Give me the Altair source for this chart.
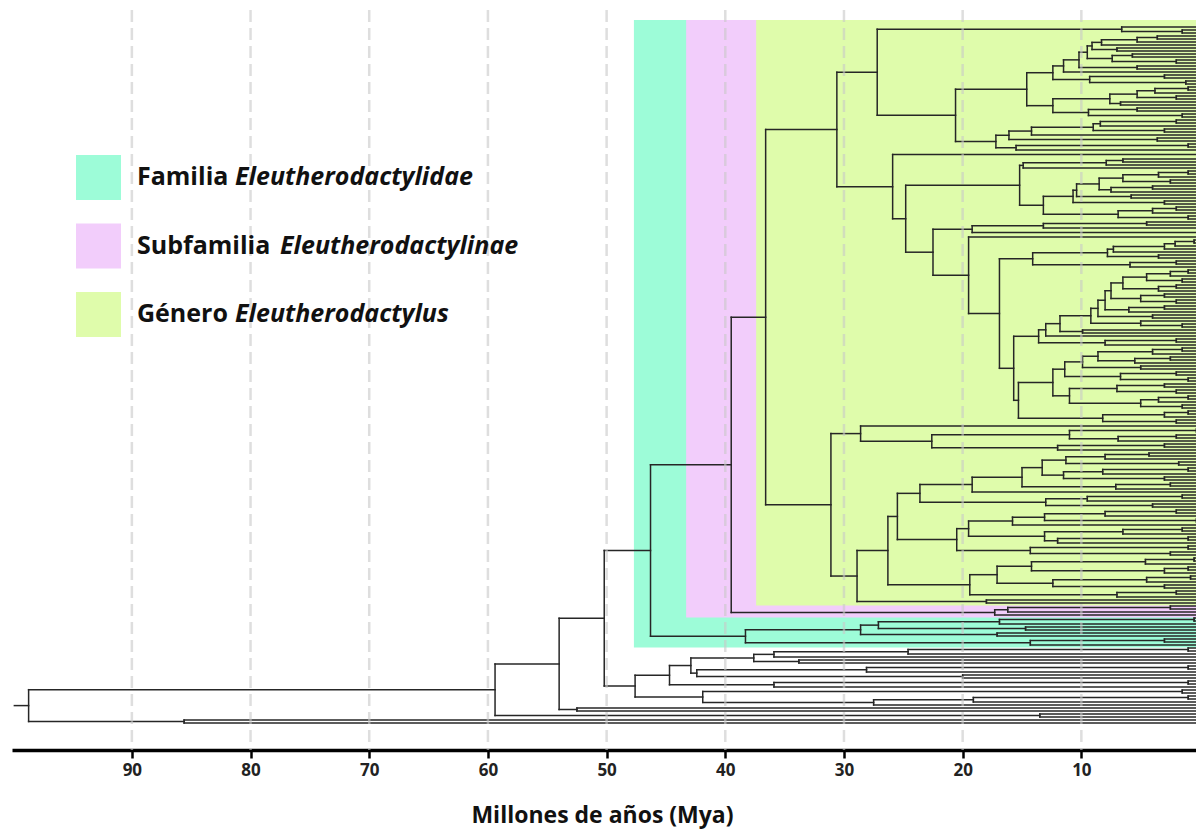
import altair as alt
import pandas as pd

# ---------------- data ----------------
# Tree written as nested clades: "(child,child)age"; "t" = terminal taxon; ages in Mya.
TREE = {
    "root": "(N59_4,N85_6)98.7",
    "N85_6": "(t,t)85.6",
    "N59_4": "(N54_0,(t,t)13.5)59.4",
    "N54_0": "(N50_2,(t,t)52.5)54.0",
    "N50_2": "(FAM,N47_6)50.2",
    "N47_6": "(N44_7,N41_9)47.6",
    "N41_9": "((t,t)1.5,(((t,t)1.0,t)19.1,t)27.5)41.9",
    "N44_7": "(N42_9,((t,t)1.0,t)35.9)44.7",
    "N42_9": "(N37_6,N42_4)42.9",
    "N42_4": "(((t,t)1.0,t)28.1,(t,t)20.0)42.4",
    "N37_6": "((((t,t)1.0,t)24.6,t)35.9,(t,t)33.8)37.6",
    "FAM": "(SUBFAM,N38_3)46.3",
    "N38_3": "(((((t,t)0.5,t)16.9,(t,t)14.7)27.1,(t,t)17.1)28.6,((t,t)3.0,t)14.3)38.3",
    "SUBFAM": "(GEN,N17_3)39.5",
    "N17_3": "(((t,t)2.5,t)16.2,t)17.3",
    "GEN": "(N30_6,N31_1)36.6",
    "N30_6": "(N27_2,N25_9)30.6",
    "N27_2": "((t,(t,t)1.5)6.6,N20_6)27.2",
    "N20_6": "(N14_6,N17_2)20.6",
    "N14_6": "(N12_4a,N12_4b)14.6",
    "N12_4a": "(N11_5,((t,t)3.0,(t,t)1.2)9.3)12.4",
    "N11_5": "(N10_2,t)11.5",
    "N10_2": "(N9_5,(t,t)5.3)10.2",
    "N9_5": "(N9_1,((t,t)5.7,(t,t)2.0)7.4)9.5",
    "N9_1": "((((t,t)3.6,t)5.3,t)8.3,(t,t)7.0)9.1",
    "N12_4b": "(((((t,t)1.0,t)3.8,(t,t)2.0)5.3,(t,t)6.7)7.6,((t,t)5.3,(t,t)1.5)9.4)12.4",
    "N17_2": "(N16_1,((t,t)1.0,t)15.5)17.2",
    "N16_1": "((N9_0,t)14.2,(t,t)3.6)16.1",
    "N9_0": "(((t,t)2.0,t)8.4,(t,t)3.0)9.0",
    "N25_9": "((t,t)0.2,N24_8)25.9",
    "N24_8": "(N15_2,N22_5)24.8",
    "N15_2": "((((t,t)6.5,t)7.9,t)14.9,N13_2)15.2",
    "N13_2": "(N10_7,(((t,t)2.0,t)4.0,(t,t)1.0)6.9)13.2",
    "N10_7": "(N10_4,(t,t)3.0)10.7",
    "N10_4": "((N6_5,((t,t)4.0,t)7.5)8.5,(t,t)5.8)10.4",
    "N6_5": "(((t,t)1.0,t)3.5,(t,t)2.5)6.5",
    "N22_5": "((((t,t)4.5,t)13.2,(t,t)0.2)19.2,(t,N16_9)19.5)22.5",
    "N16_9": "(N14_1,N15_7)16.9",
    "N14_1": "((N7_3,(t,t)3.5)7.8,((t,t)2.0,t)5.9)14.1",
    "N7_3": "((((t,t)0.5,t)2.1,t)3.0,t)7.3",
    "N15_7": "(N13_6,N15_3)15.7",
    "N13_6": "(((N9_2,(t,t)9.9)11.8,t)13.0,((t,t)2.0,t)8.0)13.6",
    "N9_2": "(((N7_5,((t,t)3.0,t)6.0)8.0,(t,t)4.0)8.6,(t,(t,t)1.5)5.0)9.2",
    "N7_5": "(((((t,t)1.0,t)2.5,(t,t)1.5)4.5,((t,t)2.0,t)3.5)6.5,((t,t)3.0,(t,t)2.0)5.0)7.5",
    "N15_3": "((N11_4,N11_0)12.4,(((t,t)1.0,t)3.0,(t,t)2.0)8.2)15.3",
    "N11_4": "(((((t,t)1.5,t)4.0,((t,t)2.5,t)5.5)8.6,(t,t)5.0)9.9,((t,t)2.0,(t,t)1.0)6.7)11.4",
    "N11_0": "(((t,t)3.0,(t,t)2.0)7.0,(((t,t)1.0,t)3.5,(t,t)1.5)5.0)11.0",
    "N31_1": "(N28_6,N28_9)31.1",
    "N28_6": "(t,(((t,t)0.3,((t,t)2.0,t)6.9)11.0,((t,t)3.0,t)12.0)22.6)28.6",
    "N28_9": "((N25_5,N19_4)26.3,(t,t)18.0)28.9",
    "N19_4": "((N14_2,N12_4d)17.1,((t,t)2.0,t)7.0)19.4",
    "N14_2": "(((t,t)0.5,t)4.6,((t,t)1.0,t)3.0)14.2",
    "N12_4d": "(((t,t)0.8,t)4.5,(t,t)3.0)12.4",
    "N25_5": "(N23_6,N20_5)25.5",
    "N23_6": "((((N11_3,N11_5b)13.3,((t,t)2.5,t)7.1)15.0,t)19.2,(((t,t)1.5,t)9.5,(t,t)4.0)13.0)23.6",
    "N11_3": "(((t,t)4.3,t)8.0,(t,t)1.8)11.3",
    "N11_5b": "(((t,t)1.0,t)8.2,(t,t)3.0)11.5",
    "N20_5": "((((((t,t)2.0,t)8.0,(t,t)0.3)13.1,t)15.8,N13_1b)19.5,((t,t)1.0,(t,t)2.5)14.3)20.5",
    "N13_1b": "(((t,t)1.5,t)6.5,((t,t)1.0,t)12.0)13.1",
}
ROOT_STEM_AGE = 99.9

GROUP_CLADES = ["FAM", "SUBFAM", "GEN"]
GROUP_WORD = ["Familia", "Subfamilia", "Género"]
GROUP_TAXON = ["Eleutherodactylidae", "Eleutherodactylinae", "Eleutherodactylus"]
GROUP_START = [47.7, 43.3, 37.4]
GROUP_COLORS = ["#9dfcd8", "#f2cdfb", "#dffcab"]

TICKS = [0, 10, 20, 30, 40, 50, 60, 70, 80, 90]
X_DOMAIN = [100.1, 0.34]
AXIS_TITLE = "Millones de años (Mya)"
FONT = "Open Sans"


# ---------------- tree parsing / layout ----------------
def parse(s, i=0):
    if s[i] == "(":
        i += 1
        kids = []
        while True:
            k, i = parse(s, i)
            kids.append(k)
            if s[i] == ",":
                i += 1
            else:
                i += 1
                break
        j = i
        while j < len(s) and (s[j].isdigit() or s[j] == "."):
            j += 1
        return {"age": float(s[i:j]), "kids": kids}, j
    j = i
    while j < len(s) and (s[j].isalnum() or s[j] == "_"):
        j += 1
    name = s[i:j]
    if name == "t":
        return {"age": 0.0, "kids": []}, j
    node, _ = parse(TREE[name], 0)
    node["name"] = name
    return node, j


root, _ = parse(TREE["root"], 0)
segs = []
named = {}
counter = [0]


def layout(node):
    if not node["kids"]:
        node["y"] = counter[0]
        node["lo"] = node["hi"] = counter[0]
        counter[0] += 1
    else:
        for k in node["kids"]:
            layout(k)
        ys_ = [k["y"] for k in node["kids"]]
        node["y"] = (min(ys_) + max(ys_)) / 2
        node["lo"] = node["kids"][0]["lo"]
        node["hi"] = node["kids"][-1]["hi"]
        segs.append({"x": node["age"], "x2": node["age"], "y": min(ys_), "y2": max(ys_)})
        for k in node["kids"]:
            segs.append({"x": node["age"], "x2": k["age"], "y": k["y"], "y2": k["y"]})
    if "name" in node:
        named[node["name"]] = node


layout(root)
segs.append({"x": ROOT_STEM_AGE, "x2": root["age"], "y": root["y"], "y2": root["y"]})
seg_df = pd.DataFrame(segs)
n_tips = counter[0]

# vertical mapping: plot area 740 px high, first tip 17 px below top, last tip 27 px above axis
H = 740
W = 1184
ppi = (H - 17 - 27) / (n_tips - 1)
y_dom = [-17 / ppi, (n_tips - 1) + 27 / ppi]
xs = alt.Scale(domain=X_DOMAIN, nice=False, zero=False)
ys = alt.Scale(domain=y_dom, nice=False, zero=False, reverse=True)

x_axis = alt.Axis(
    values=TICKS, format="d", title=AXIS_TITLE, grid=False,
    labelFont=FONT, labelFontSize=17, labelFontWeight="bold", labelColor="#222222",
    labelPadding=4, labelOverlap=False, labelFlush=False,
    tickColor="#000000", tickWidth=2.5, tickSize=8,
    domainColor="#000000", domainWidth=3.5,
    titleFont=FONT, titleFontSize=23, titleFontWeight="bold", titleColor="#111111",
    titlePadding=26, titleX=(1204 - 16) / 2 - 4)

rect_layers = []
for clade, start, col in zip(GROUP_CLADES, GROUP_START, GROUP_COLORS):
    d = pd.DataFrame({"start": [start], "end": [-0.6],
                      "top": [-7 / ppi], "bottom": [named[clade]["hi"] + 0.85]})
    rect_layers.append(
        alt.Chart(d).mark_rect(color=col).encode(
            x=alt.X("start:Q", scale=xs, axis=x_axis), x2="end:Q",
            y=alt.Y("top:Q", scale=ys, axis=None), y2="bottom:Q")
    )

tree = alt.Chart(seg_df).mark_rule(color="#262626", strokeWidth=1.5, strokeCap="square").encode(
    x=alt.X("x:Q", scale=xs, axis=x_axis),
    x2="x2:Q",
    y=alt.Y("y:Q", scale=ys, axis=None), y2="y2:Q",
)

grid = alt.Chart(pd.DataFrame({"tick": TICKS})).mark_rule(
    color="#c8c8c8", opacity=0.6, strokeWidth=2.5, strokeDash=[12, 6]
).encode(x=alt.X("tick:Q", scale=xs, axis=x_axis))

legend_layers = []
for i, (word, taxon, col) in enumerate(zip(GROUP_WORD, GROUP_TAXON, GROUP_COLORS)):
    top = 145 + i * 68.5
    one = pd.DataFrame({"word": [word], "taxon": [taxon]})
    legend_layers.append(alt.Chart(one).mark_rect(color=col).encode(
        x=alt.value(64), x2=alt.value(109), y=alt.value(top), y2=alt.value(top + 45)))
    legend_layers.append(alt.Chart(one).mark_text(
        align="left", baseline="middle", font=FONT, fontSize=25, fontWeight="bold", color="#111111"
    ).encode(x=alt.value(125), y=alt.value(top + 22), text="word:N"))
    italic_x = [223, 268, 223][i]
    legend_layers.append(alt.Chart(one).mark_text(
        align="left", baseline="middle", font=FONT, fontSize=25, fontWeight="bold",
        fontStyle="italic", color="#111111"
    ).encode(x=alt.value(italic_x), y=alt.value(top + 22), text="taxon:N"))

chart = alt.layer(*rect_layers, tree, grid, *legend_layers).properties(
    width=W, height=H,
    autosize=alt.AutoSizeParams(type="none"),
    padding={"left": 4, "top": 2, "right": 0, "bottom": 82},
).configure_view(stroke=None)

chart.save("out.html", embed_options={"renderer": "svg", "actions": False})
